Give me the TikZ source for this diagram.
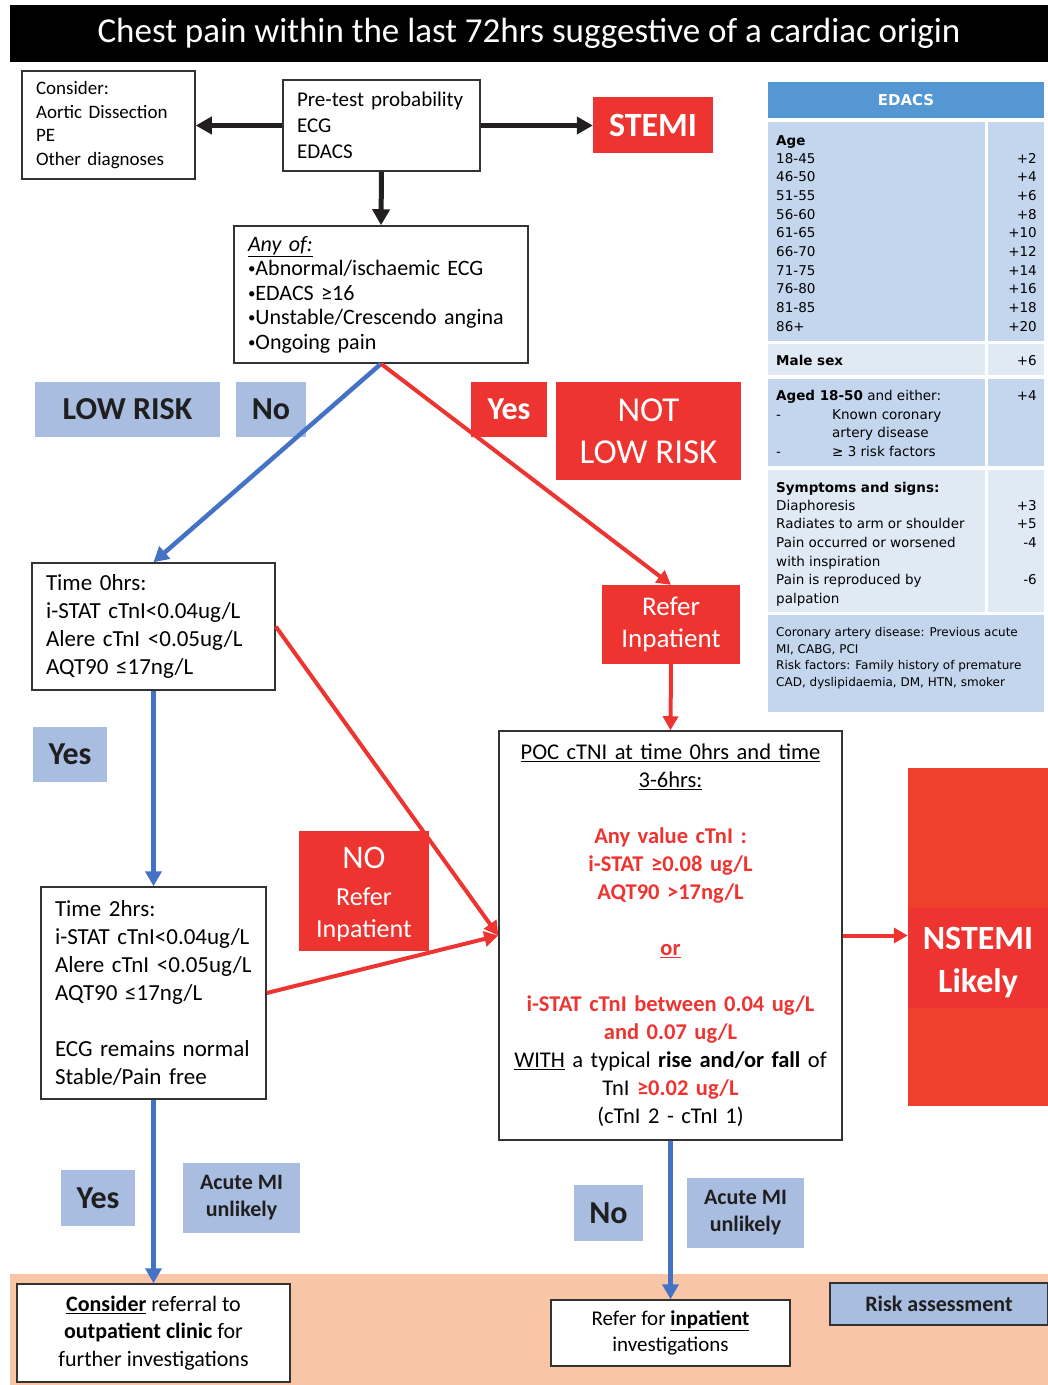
\documentclass[tikz,border=0pt]{standalone}
\usepackage{fontspec}
\setmainfont{Carlito}
\newfontfamily\edacsfont{DejaVu Sans}
\usepackage{xcolor}
\usepackage{tikz}
\usetikzlibrary{arrows.meta}

\definecolor{flowred}{HTML}{EE3430}
\definecolor{nstemired}{HTML}{EF402D}
\definecolor{flowblue}{HTML}{4472C4}
\definecolor{lblblue}{HTML}{A9BDE1}
\definecolor{lbltext}{HTML}{1F1F1F}
\definecolor{peach}{HTML}{F8C6A6}
\definecolor{edhead}{HTML}{5597D3}
\definecolor{edrow}{HTML}{C3D6EE}
\definecolor{edrowlt}{HTML}{E0EAF5}
\definecolor{boxgray}{HTML}{333333}
\definecolor{arrblack}{HTML}{231F20}

\newcommand{\anybullet}{\raisebox{2pt}{\fontsize{15}{15}\selectfont\textbullet}}

\begin{document}
\begin{tikzpicture}[x=1pt, y=-1pt,
    box/.style={draw=boxgray, line width=1.5pt, fill=white, inner xsep=14pt, inner ysep=0pt, align=left},
    ctrbox/.style={draw=boxgray, line width=1.5pt, fill=white, inner sep=0pt, align=center},
    lbl/.style={fill=lblblue, text=lbltext, inner sep=0pt, align=center, font=\bfseries\fontsize{32}{38}\selectfont},
    redlbl/.style={fill=flowred, text=white, inner sep=0pt, align=center},
    karrow/.style={draw=arrblack, line width=5pt, -{Triangle[length=16pt,width=17pt]}},
    barrow/.style={draw=flowblue, line width=4.5pt, -{Triangle[length=15pt,width=16pt]}},
    rarrow/.style={draw=flowred, line width=4pt, -{Triangle[length=14pt,width=15pt]}},
    edtxt/.style={inner sep=0pt, font=\edacsfont\fontsize{13.5}{18.7}\selectfont}
]
    \useasboundingbox (0,0) rectangle (1048,1385);
    \fill[peach] (10,1274) rectangle (1048,1385);

    % Title
    \node[fill=black, text=white, minimum width=1038, minimum height=57, inner sep=0pt, font=\fontsize{35}{40}\selectfont] (title) at (529,33.5) {Chest pain within the last 72hrs suggestive of a cardiac origin};

    % First assessment
    \node[box, minimum width=173, minimum height=108, text width=145, font=\fontsize{19}{23.5}\selectfont] (consider) at (108.5,125) {Consider:\\Aortic Dissection\\PE\\Other diagnoses};
    \node[box, minimum width=197, minimum height=91, text width=169, font=\fontsize{21}{26}\selectfont] (pretest) at (381.5,125.5) {Pre-test probability\\ECG\\EDACS};
    \node[redlbl, minimum width=120, minimum height=56, font=\bfseries\fontsize{34}{40}\selectfont] (stemi) at (653,125) {STEMI};
    \node[box, minimum width=294, minimum height=137, text width=266, font=\fontsize{22}{24.5}\selectfont] (anyof) at (381,294.5) {\underline{\textit{Any of:}}\\\anybullet Abnormal/ischaemic ECG\\\anybullet EDACS ≥16\\\anybullet Unstable/Crescendo angina\\\anybullet Ongoing pain};

    % Risk labels
    \node[lbl, minimum width=185, minimum height=55] (lowrisk) at (127.5,409.5) {LOW RISK};
    \node[lbl, minimum width=70, minimum height=55] (nolow) at (271,409.5) {No};
    \node[redlbl, minimum width=76, minimum height=55, font=\bfseries\fontsize{32}{38}\selectfont] (yesnot) at (509,409.5) {Yes};
    \node[redlbl, minimum width=185, minimum height=98, font=\fontsize{35}{42}\selectfont] (notlow) at (648.5,431) {NOT\\LOW RISK};

    % Troponin pathway
    \node[box, minimum width=243, minimum height=127, text width=215, font=\fontsize{23}{28}\selectfont] (time0) at (153.5,626.5) {Time 0hrs:\\i-STAT cTnI<0.04ug/L\\Alere cTnI <0.05ug/L\\AQT90 ≤17ng/L};
    \node[redlbl, minimum width=138, minimum height=79, font=\fontsize{27}{32}\selectfont] (refer) at (671,624.5) {Refer\\Inpatient};
    \node[lbl, minimum width=74, minimum height=55] (yes0) at (70,754.5) {Yes};
    \node[box, minimum width=225, minimum height=212, text width=197, font=\fontsize{23}{28}\selectfont] (time2) at (153.5,993) {Time 2hrs:\\i-STAT cTnI<0.04ug/L\\Alere cTnI <0.05ug/L\\AQT90 ≤17ng/L\\[28pt]ECG remains normal\\Stable/Pain free};
    \node[redlbl, minimum width=130, minimum height=120, font=\fontsize{26}{32}\selectfont] (norefer) at (364,891) {\rule{0pt}{29pt}{\fontsize{33}{33}\selectfont NO}\\[5pt]Refer\\Inpatient};
    \node[ctrbox, minimum width=343, minimum height=409, text width=330, font=\fontsize{22.5}{28}\selectfont] (poc) at (670.5,935.5) {\underline{POC cTNI at time 0hrs and time}\\\underline{3-6hrs:}\\[28pt]
        \textcolor{flowred}{\textbf{Any value cTnI :}}\\\textcolor{flowred}{\textbf{i-STAT ≥0.08 ug/L}}\\\textcolor{flowred}{\textbf{AQT90 >17ng/L}}\\[28pt]
        \textcolor{flowred}{\textbf{\underline{or}}}\\[28pt]
        \textcolor{flowred}{\textbf{i-STAT cTnI between 0.04 ug/L}}\\\textcolor{flowred}{\textbf{and 0.07 ug/L}}\\
        \underline{WITH} a typical \textbf{rise and/or fall} of\\TnI \textcolor{flowred}{\textbf{≥0.02 ug/L}}\\(cTnI 2 - cTnI 1)};
    \node[fill=nstemired, minimum width=140, minimum height=338, inner sep=0pt] (nstemi) at (978,937) {};
    \node[redlbl, minimum width=140, minimum height=100, font=\bfseries\fontsize{34}{43}\selectfont] (nstemitxt) at (978,958) {\rule{0pt}{31pt}NSTEMI\\Likely};

    % Outcome labels
    \node[lbl, minimum width=74, minimum height=56] (yes2) at (98,1198) {Yes};
    \node[lbl, minimum width=117, minimum height=70, font=\bfseries\fontsize{22}{27}\selectfont] (unlikely2) at (241.5,1198) {Acute MI\\unlikely};
    \node[lbl, minimum width=69, minimum height=56] (nopoc) at (608.5,1213) {No};
    \node[lbl, minimum width=117, minimum height=70, font=\bfseries\fontsize{22}{27}\selectfont] (unlikelypoc) at (745.5,1213) {Acute MI\\unlikely};

    % Disposition
    \node[ctrbox, minimum width=273, minimum height=98, font=\fontsize{22}{27.5}\selectfont] (outpat) at (153.5,1333) {\textbf{\underline{Consider}} referral to\\\textbf{outpatient clinic} for\\further investigations};
    \node[ctrbox, minimum width=239, minimum height=66, font=\fontsize{21}{26}\selectfont] (inpat) at (670.5,1333) {Refer for \textbf{\underline{inpatient}}\\investigations};
    \node[lbl, draw=boxgray, line width=1.5pt, minimum width=218, minimum height=42, font=\bfseries\fontsize{22}{26}\selectfont] (riskass) at (939,1304) {Risk assessment};

    % Connectors
    \draw[karrow] (pretest.west) -- (pretest.west -| consider.east);
    \draw[karrow] (pretest.east) -- (pretest.east -| stemi.west);
    \draw[karrow] (pretest.south) -- (anyof.north);
    \draw[barrow] (anyof.south) -- (time0.north);
    \draw[rarrow] (anyof.south) -- (refer.north);
    \draw[barrow] (time0.south) -- (time2.north);
    \draw[rarrow] (time0.east) -- (poc.west);
    \draw[rarrow] (time2.east) -- (poc.west);
    \draw[rarrow] (refer.south) -- (poc.north);
    \draw[rarrow] (poc.east) -- (poc.east -| nstemi.west);
    \draw[barrow] (time2.south) -- (outpat.north);
    \draw[barrow] (poc.south) -- (inpat.north);

    % EDACS score table
    \node[fill=edhead, text=white, minimum width=276, minimum height=36, inner sep=0pt, font=\edacsfont\bfseries\fontsize{15}{18}\selectfont] (edacs) at (906,100) {EDACS};
    \foreach \top/\bot/\shade in {122/341/edrow, 344/375/edrowlt, 379/466/edrow, 470/612/edrowlt} {
        \fill[\shade] (768,\top) rectangle (985,\bot);
        \fill[\shade] (988,\top) rectangle (1044,\bot);
    }
    \fill[edrow] (768,615) rectangle (1044,712);

    \node[edtxt, anchor=base west] (age) at (776,145) {\textbf{Age}};
    \foreach \i/\range/\pts in {0/18-45/+2, 1/46-50/+4, 2/51-55/+6, 3/56-60/+8, 4/61-65/+10, 5/66-70/+12, 6/71-75/+14, 7/76-80/+16, 8/81-85/+18, 9/86+/+20} {
        \node[edtxt, anchor=base west] (age\i) at (776,163+18.7*\i) {\range};
        \node[edtxt, anchor=base east] (agept\i) at (1037,163+18.7*\i) {\pts};
    }
    \node[edtxt, anchor=base west] (male) at (776,365) {\textbf{Male sex}};
    \node[edtxt, anchor=base east] (malept) at (1037,365) {+6};
    \node[edtxt, anchor=base west] (aged) at (776,400) {\textbf{Aged 18-50} and either:};
    \node[edtxt, anchor=base east] (agedpt) at (1037,400) {+4};
    \node[edtxt, anchor=base west] (dasha) at (776,419) {-};
    \node[edtxt, anchor=base west] (known) at (832,419) {Known coronary};
    \node[edtxt, anchor=base west] (artery) at (832,437.7) {artery disease};
    \node[edtxt, anchor=base west] (dashb) at (776,456.4) {-};
    \node[edtxt, anchor=base west] (riskf) at (832,456.4) {≥ 3 risk factors};
    \node[edtxt, anchor=base west] (symp) at (776,492) {\textbf{Symptoms and signs:}};
    \foreach \j/\sign/\pts in {0/Diaphoresis/+3, 1/Radiates to arm or shoulder/+5, 2/Pain occurred or worsened/-4, 3/with inspiration/, 4/Pain is reproduced by/-6, 5/palpation/} {
        \node[edtxt, anchor=base west] (sign\j) at (776,510+18.7*\j) {\sign};
        \node[edtxt, anchor=base east] (signpt\j) at (1037,510+18.7*\j) {\pts};
    }
    \node[edtxt, anchor=north west, align=left, font=\edacsfont\fontsize{12}{16.8}\selectfont] (ednote) at (776,627) {Coronary artery disease: Previous acute\\MI, CABG, PCI\\Risk factors: Family history of premature\\CAD, dyslipidaemia, DM, HTN, smoker};
\end{tikzpicture}
\end{document}
